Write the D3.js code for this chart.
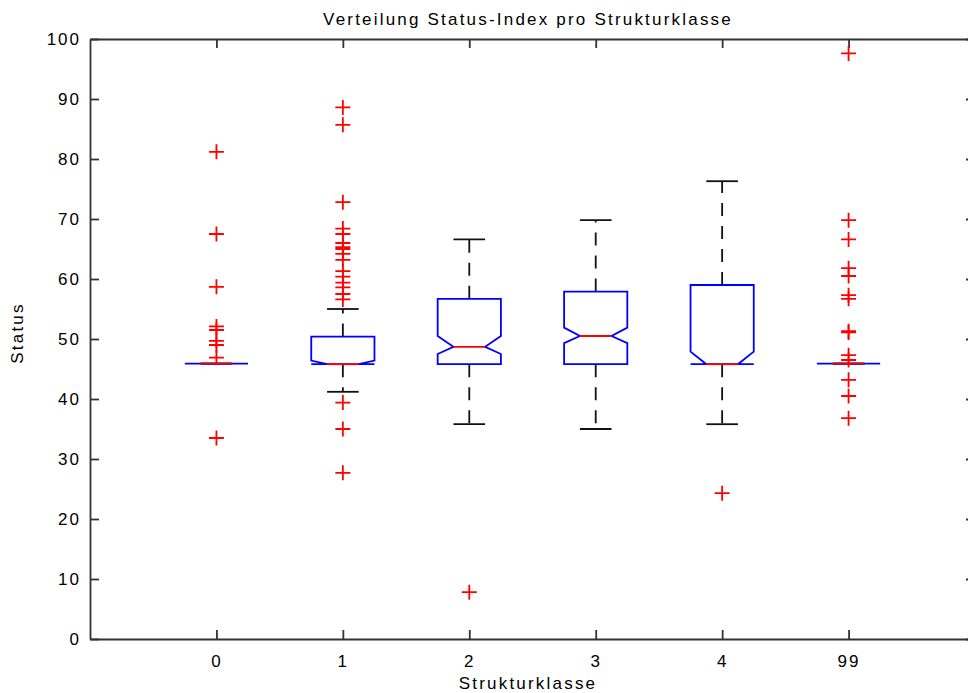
<!DOCTYPE html>
<html>
<head>
<meta charset="utf-8">
<script src="https://cdn.jsdelivr.net/npm/d3@7"></script>
<style>
  body { margin: 0; background: #fff; }
  svg { display: block; font-family: "Liberation Sans", Arial, sans-serif; }
  .axis path, .axis line { stroke: #333; stroke-width: 1.8; }
  .axis text { font-size: 17px; fill: #000; letter-spacing: 2px; }
</style>
</head>
<body>
<div id="chart"></div>
<script>
'use strict'
// Status-Index per Strukturklasse
const categories = ['0', '1', '2', '3', '4', '99'];
const q1 =        [45.9, 45.8, 45.8, 45.8, 45.8, 45.9];
const median =    [45.9, 45.8, 48.7, 50.5, 45.8, 45.9];
const q3 =        [45.9, 50.4, 56.7, 57.9, 59.0, 45.9];
const notchLo =   [45.9, 45.8, 47.5, 49.3, 45.8, 45.9];
const notchHi =   [45.9, 46.4, 50.5, 51.9, 47.9, 45.9];
const whiskerLo = [45.9, 41.2, 35.8, 35.0, 35.8, 45.9];
const whiskerHi = [45.9, 55.0, 66.6, 69.8, 76.3, 45.9];
const outliers = [
  [81.2, 67.5, 58.7, 52.1, 51.5, 49.7, 49.0, 46.9, 33.5],
  [88.6, 85.7, 72.8, 68.4, 67.5, 66.0, 65.3, 65.0, 64.2, 63.2, 61.3, 60.4, 59.4, 58.6, 57.5, 56.6, 39.4, 35.0, 27.7],
  [7.8],
  [],
  [24.3],
  [97.6, 69.8, 66.6, 61.8, 60.5, 57.3, 56.7, 51.3, 51.1, 47.3, 46.5, 43.2, 40.5, 36.8]
];
const yTicks = [0, 10, 20, 30, 40, 50, 60, 70, 80, 90, 100];

let margin = {top: 39, left: 90};
let width = 968, height = 693;
let plotBottom = 639;
let plotRight = 975; // frame runs past the window edge like the original

let svg = d3.select('#chart').append('svg')
  .attr('width', width)
  .attr('height', height);

let x = d3.scaleLinear().domain([0, categories.length + 1]).range([margin.left, plotRight]);
let y = d3.scaleLinear().domain([0, 100]).range([plotBottom, margin.top]);
let pos = categories.map(function(d, i) { return i + 1; });
let boxW = x(0.5) - x(0); // box width 0.5 units

// frame + inward ticks
svg.append('g').attr('class', 'axis')
  .attr('transform', 'translate(' + margin.left + ',0)')
  .call(d3.axisLeft(y).tickValues(yTicks).tickSize(-9).tickSizeOuter(0).tickPadding(9));
svg.append('g').attr('class', 'axis')
  .attr('transform', 'translate(' + plotRight + ',0)')
  .call(d3.axisRight(y).tickValues(yTicks).tickSize(-9).tickSizeOuter(0).tickFormat(''));
svg.append('g').attr('class', 'axis')
  .attr('transform', 'translate(0,' + margin.top + ')')
  .call(d3.axisTop(x).tickValues(pos).tickSize(-9).tickSizeOuter(0).tickFormat(''));
svg.append('g').attr('class', 'axis')
  .attr('transform', 'translate(0,' + plotBottom + ')')
  .call(d3.axisBottom(x).tickValues(pos).tickSize(-9).tickSizeOuter(0).tickPadding(16)
    .tickFormat(function(d) { return categories[d - 1]; }));
svg.selectAll('.axis .domain').attr('stroke', '#333');

// whiskers
let groups = svg.append('g').selectAll('.grp')
  .data(categories.map(function(c, i) { return i; }))
  .enter().append('g').attr('class', 'grp');

groups.append('line')
  .attr('x1', function(i) { return x(pos[i]); })
  .attr('x2', function(i) { return x(pos[i]); })
  .attr('y1', function(i) { return y(q3[i]); })
  .attr('y2', function(i) { return y(whiskerHi[i]); })
  .attr('stroke', '#111').attr('stroke-width', 1.8).attr('stroke-dasharray', '13,10');
groups.append('line')
  .attr('x1', function(i) { return x(pos[i]); })
  .attr('x2', function(i) { return x(pos[i]); })
  .attr('y1', function(i) { return y(q1[i]); })
  .attr('y2', function(i) { return y(whiskerLo[i]); })
  .attr('stroke', '#111').attr('stroke-width', 1.8).attr('stroke-dasharray', '13,10');
[whiskerHi, whiskerLo].forEach(function(arr) {
  groups.append('line')
    .attr('x1', function(i) { return x(pos[i]) - boxW / 4; })
    .attr('x2', function(i) { return x(pos[i]) + boxW / 4; })
    .attr('y1', function(i) { return y(arr[i]); })
    .attr('y2', function(i) { return y(arr[i]); })
    .attr('stroke', '#111').attr('stroke-width', 1.8);
});

// notched boxes
groups.append('path')
  .attr('d', function(i) {
    let l = x(pos[i]) - boxW / 2, r = x(pos[i]) + boxW / 2, n = boxW / 4;
    return d3.line()([
      [l, y(q1[i])], [l, y(notchLo[i])], [l + n, y(median[i])], [l, y(notchHi[i])], [l, y(q3[i])],
      [r, y(q3[i])], [r, y(notchHi[i])], [r - n, y(median[i])], [r, y(notchLo[i])], [r, y(q1[i])]
    ]) + 'Z';
  })
  .attr('fill', 'none').attr('stroke', '#0000ff').attr('stroke-width', 1.8);

// medians
groups.append('line')
  .attr('x1', function(i) { return x(pos[i]) - boxW / 4; })
  .attr('x2', function(i) { return x(pos[i]) + boxW / 4; })
  .attr('y1', function(i) { return y(median[i]); })
  .attr('y2', function(i) { return y(median[i]); })
  .attr('stroke', '#ff0000').attr('stroke-width', 1.8);

// outliers as red plus signs
let pts = [];
outliers.forEach(function(arr, i) { arr.forEach(function(v) { pts.push([i, v]); }); });
svg.append('g').selectAll('.out')
  .data(pts)
  .enter().append('path')
  .attr('class', 'out')
  .attr('d', function(d) {
    let cx = x(pos[d[0]]), cy = y(d[1]), s = 7.5;
    return 'M' + (cx - s) + ',' + cy + 'H' + (cx + s) + 'M' + cx + ',' + (cy - s) + 'V' + (cy + s);
  })
  .attr('stroke', '#ff0000').attr('stroke-width', 1.8).attr('fill', 'none');

// texts
svg.append('text')
  .attr('x', 528).attr('y', 25)
  .attr('text-anchor', 'middle')
  .attr('font-size', '17px').attr('letter-spacing', '2.2px')
  .text('Verteilung Status-Index pro Strukturklasse');
svg.append('text')
  .attr('x', 528).attr('y', 689)
  .attr('text-anchor', 'middle')
  .attr('font-size', '17px').attr('letter-spacing', '2.2px')
  .text('Strukturklasse');
svg.append('text')
  .attr('transform', 'translate(23,333) rotate(-90)')
  .attr('text-anchor', 'middle')
  .attr('font-size', '17px').attr('letter-spacing', '2.2px')
  .text('Status');
</script>
</body>
</html>
